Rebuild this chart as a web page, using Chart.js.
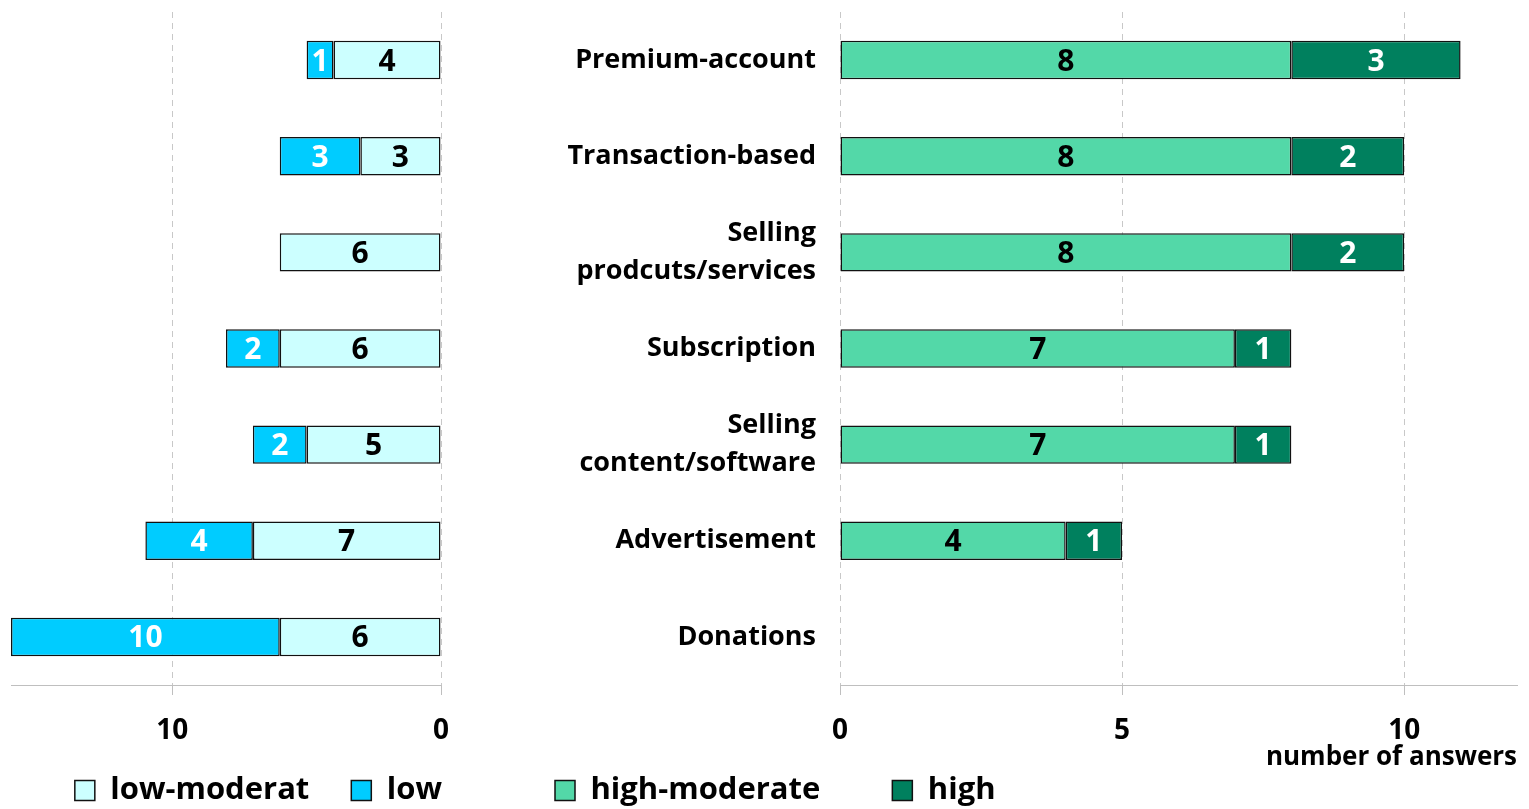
<!DOCTYPE html>
<html>
<head>
<meta charset="utf-8">
<script src="https://cdn.jsdelivr.net/npm/chart.js@4"></script>
<style>
  html, body { margin: 0; padding: 0; background: #fff; overflow: hidden; }
  #wrap { position: relative; width: 1529px; height: 809px; overflow: hidden; }
  #leftChart { position: absolute; left: 0; top: 0; }
  #rightChart { position: absolute; left: 460px; top: 0; }
</style>
</head>
<body>
<div id="wrap">
  <canvas id="leftChart" width="500" height="816"></canvas>
  <canvas id="rightChart" width="1069" height="816"></canvas>
</div>
<script>
// categories, top to bottom
const categories = ['Premium-account', 'Transaction-based', ['Selling', 'prodcuts/services'],
  'Subscription', ['Selling', 'content/software'], 'Advertisement', 'Donations'];

// left panel (drawn right to left)
const lowModerat = [4, 3, 6, 6, 5, 7, 6];
const low = [1, 3, 0, 2, 2, 4, 10];
const leftTicks = [0, 10];

// right panel
const highModerate = [8, 8, 8, 7, 7, 4, 0];
const high = [3, 2, 2, 1, 1, 1, 0];
const rightTicks = [0, 5, 10];

Chart.defaults.font.family = '"Open Sans", sans-serif';
Chart.defaults.font.weight = 'bold';
Chart.defaults.color = '#000';

// writes each value in the middle of its bar
const barValues = {
  id: 'barValues',
  afterDatasetsDraw(chart) {
    const ctx = chart.ctx;
    ctx.save();
    ctx.font = 'bold 30px "Open Sans"';
    ctx.textAlign = 'center';
    ctx.textBaseline = 'middle';
    chart.data.datasets.forEach((ds, i) => {
      chart.getDatasetMeta(i).data.forEach((bar, j) => {
        if (!ds.data[j]) return;
        ctx.fillStyle = ds.valueColor;
        ctx.fillText(ds.data[j], (bar.x + bar.base) / 2, bar.y + 2);
      });
    });
    ctx.restore();
  }
};

// the x axes are kept short so the legend can sit close, let their labels spill out
const noLabelClip = {
  id: 'noLabelClip',
  afterLayout(chart) { chart.scales.x._computeLabelArea = () => undefined; }
};

function valueAxis(max, tickList, extra) {
  return Object.assign({
    type: 'linear',
    stacked: true,
    min: 0,
    max: max,
    afterBuildTicks: s => { s.ticks = tickList.map(v => ({ value: v })); },
    grid: { color: '#c8c8c8', lineWidth: 1, tickLength: 10, tickColor: '#bfbfbf', tickBorderDash: [] },
    border: { display: true, color: '#bfbfbf', width: 1, dash: [6, 5] },
    ticks: { font: { size: 28, weight: 'bold' }, padding: 19, maxRotation: 0 }
  }, extra);
}

function barSet(label, data, fill, textColor) {
  return {
    label: label,
    data: data,
    backgroundColor: fill,
    borderColor: '#111',
    borderWidth: 1.5,
    borderSkipped: false,
    valueColor: textColor,
    barPercentage: 0.5,
    categoryPercentage: 0.8
  };
}

const legendFont = { size: 31, weight: 'bold' };

new Chart(document.getElementById('leftChart'), {
  type: 'bar',
  data: {
    labels: categories,
    datasets: [
      barSet('low-moderat', lowModerat, '#ccffff', '#000'),
      barSet('low', low, '#00ccff', '#fff')
    ]
  },
  options: {
    indexAxis: 'y',
    responsive: false,
    animation: false,
    layout: { padding: { left: 11, right: 16, top: 12, bottom: 0 } },
    scales: {
      x: valueAxis(16, leftTicks, { reverse: true, afterFit: s => { s.height = 48; } }),
      y: {
        position: 'right',
        stacked: true,
        grid: { display: false },
        border: { display: false },
        ticks: { display: false },
        afterFit: s => { s.width = 43; }
      }
    },
    plugins: {
      legend: {
        position: 'bottom',
        align: 'end',
        labels: { boxWidth: 20, boxHeight: 20, padding: 42, font: legendFont }
      },
      tooltip: { enabled: false }
    }
  },
  plugins: [barValues, noLabelClip]
});

new Chart(document.getElementById('rightChart'), {
  type: 'bar',
  data: {
    labels: categories,
    datasets: [
      barSet('high-moderate', highModerate, '#53d8a8', '#000'),
      barSet('high', high, '#00805e', '#fff')
    ]
  },
  options: {
    indexAxis: 'y',
    responsive: false,
    animation: false,
    layout: { padding: { left: 23, right: 12, top: 12, bottom: 0 } },
    scales: {
      x: valueAxis(12, rightTicks, {
        afterFit: s => { s.height = 18; },
        title: {
          display: true,
          text: 'number of answers',
          align: 'end',
          font: { size: 26, weight: 'bold', lineHeight: 1 },
          padding: { top: 0, bottom: -68 }
        }
      }),
      y: {
        stacked: true,
        grid: { display: false },
        border: { display: false },
        ticks: { font: { size: 27, weight: 'bold', lineHeight: 1.4 }, padding: 16 },
        afterFit: s => { s.width = 357; s.paddingTop = 0; s.paddingBottom = 0; }
      }
    },
    plugins: {
      legend: {
        position: 'bottom',
        align: 'start',
        labels: { boxWidth: 20, boxHeight: 20, padding: 72, font: legendFont }
      },
      tooltip: { enabled: false }
    }
  },
  plugins: [barValues, noLabelClip]
});
</script>
</body>
</html>
